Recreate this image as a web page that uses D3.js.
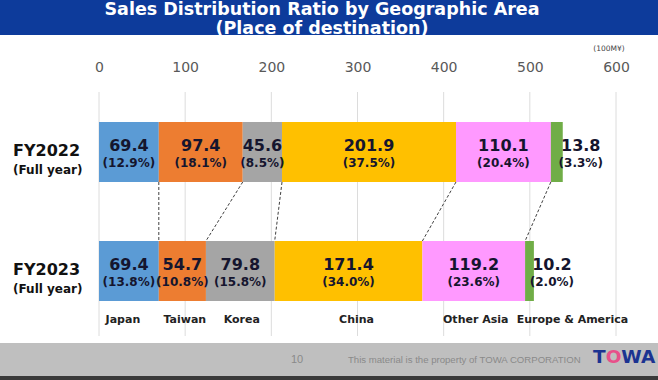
<!DOCTYPE html>
<html><head><meta charset="utf-8">
<script src="https://cdn.jsdelivr.net/npm/d3@7"></script>
<style>body{margin:0;background:#fff}svg{display:block}</style>
</head><body>
<script>
const regions = ["Japan","Taiwan","Korea","China","Other Asia","Europe & America"];
const years = ["FY2022","FY2023"];
const fy2022 = [69.4,97.4,45.6,201.9,110.1,13.8];
const fy2023 = [69.4,54.7,79.8,171.4,119.2,10.2];
const pct2022 = ["12.9%","18.1%","8.5%","37.5%","20.4%","3.3%"];
const pct2023 = ["13.8%","10.8%","15.8%","34.0%","23.6%","2.0%"];
const tickValues = [0,100,200,300,400,500,600];
const colors = ["#5b9bd5","#ed7d31","#a5a5a5","#ffc000","#ff99ff","#70ad47"];

const W = 658, H = 380;
const svg = d3.select("body").append("svg").attr("width", W).attr("height", H);

// title band
svg.append("rect").attr("x",0).attr("y",0).attr("width",W).attr("height",35).attr("fill","#0d3b9b");
const titleStyle = s => s.attr("text-anchor","middle").attr("fill","#fff")
  .style("font-family","DejaVu Sans").style("font-weight","bold").style("font-size","17.5px");
svg.append("text").call(titleStyle).attr("x",322).attr("y",15).text("Sales Distribution Ratio by Geographic Area");
svg.append("text").call(titleStyle).attr("x",322).attr("y",34).text("(Place of destination)");

// scales
const x = d3.scaleLinear().domain([0,600]).range([99,616]);
const yc = d3.scalePoint().domain(years).range([152,271]);
const barH = 60;

// grid
svg.append("g").selectAll("line").data(tickValues).join("line")
  .attr("x1",d=>x(d)).attr("x2",d=>x(d)).attr("y1",92).attr("y2",336)
  .attr("stroke","#dcdcdc").attr("stroke-width",1);

// axis labels
const axis = d3.axisTop(x).tickValues(tickValues).tickSize(0).tickPadding(0);
const ag = svg.append("g").attr("transform","translate(0,72)").call(axis);
ag.select(".domain").remove();
ag.selectAll("text").attr("fill","#595959").style("font-family","DejaVu Sans").style("font-size","14px").attr("dy",0);
svg.append("text").attr("x",609).attr("y",51).attr("text-anchor","middle").attr("fill","#444")
  .style("font-family","DejaVu Sans").style("font-size","7.5px").text("(100M¥)");

// stacked data
const rows = years.map((yr,i)=>{
  const o = {year: yr};
  regions.forEach((r,j)=>{ o[r] = (i===0?fy2022:fy2023)[j]; });
  return o;
});
const pcts = [pct2022, pct2023];
const stacked = d3.stack().keys(regions)(rows);

// connectors
const conn = regions.slice(0,5).map((r,j)=>({a: stacked[j][0][1], b: stacked[j][1][1]}));
svg.append("g").selectAll("line").data(conn).join("line")
  .attr("x1",d=>x(d.a)).attr("y1",yc("FY2022")+barH/2)
  .attr("x2",d=>x(d.b)).attr("y2",yc("FY2023")-barH/2)
  .attr("stroke","#404040").attr("stroke-width",1).attr("stroke-dasharray","3,2");

// bars
const sg = svg.append("g").selectAll("g").data(stacked).join("g").attr("fill",(d,i)=>colors[i]);
sg.selectAll("rect").data(d=>d.map(s=>({s, year:s.data.year}))).join("rect")
  .attr("x",d=>x(d.s[0])).attr("width",d=>x(d.s[1])-x(d.s[0]))
  .attr("y",d=>yc(d.year)-barH/2).attr("height",barH);

// value labels
const lab = [];
stacked.forEach((ser,j)=>{
  ser.forEach((s,i)=>{
    const w = x(s[1])-x(s[0]);
    const cx = w < 30 ? x(s[1]) + 18 : (x(s[0])+x(s[1]))/2;
    lab.push({cx, cy: yc(s.data.year), v: s[1]-s[0], p: pcts[i][j]});
  });
});
const lg = svg.append("g").attr("text-anchor","middle").attr("fill","#15152e").style("font-family","DejaVu Sans").style("font-weight","bold");
lg.selectAll("text.v").data(lab).join("text").attr("class","v")
  .attr("x",d=>d.cx).attr("y",d=>d.cy-1.5).style("font-size","16px").text(d=>d.v.toFixed(1));
lg.selectAll("text.p").data(lab).join("text").attr("class","p")
  .attr("x",d=>d.cx).attr("y",d=>d.cy+14.5).style("font-size","12px").text(d=>"("+d.p+")");

// category labels
const cg = svg.append("g").attr("fill","#111").style("font-family","DejaVu Sans").style("font-weight","bold");
cg.selectAll("text.y").data(years).join("text").attr("class","y")
  .attr("x",13).attr("y",d=>yc(d)+4).style("font-size","16px").text(d=>d);
cg.selectAll("text.f").data(years).join("text").attr("class","f")
  .attr("x",13).attr("y",d=>yc(d)+21.5).style("font-size","12px").text("(Full year)");

// region labels (positioned under FY2023 segments)
const regionOffset = [-6, 2.5, 1.5, 8, 2, 43];
svg.append("g").attr("text-anchor","middle").attr("fill","#222")
  .style("font-family","DejaVu Sans").style("font-weight","bold").style("font-size","11px")
  .selectAll("text").data(regions).join("text")
  .attr("x",(d,j)=>(x(stacked[j][1][0])+x(stacked[j][1][1]))/2 + regionOffset[j])
  .attr("y",323).text(d=>d);

// footer
svg.append("rect").attr("x",0).attr("y",343).attr("width",W).attr("height",34).attr("fill","#bfbfbf");
svg.append("rect").attr("x",0).attr("y",376).attr("width",W).attr("height",4).attr("fill","#3a3a3a");
svg.append("text").attr("x",297).attr("y",363).attr("text-anchor","middle").attr("fill","#8a8a8a")
  .style("font-family","Liberation Sans").style("font-size","11px").text("10");
svg.append("text").attr("x",348).attr("y",363).attr("fill","#8a8a8a")
  .style("font-family","Liberation Sans").style("font-size","9.6px").text("This material is the property of TOWA CORPORATION");
const logo = svg.append("text").attr("x",593).attr("y",363).attr("fill","#1b3391")
  .style("font-family","DejaVu Sans").style("font-weight","bold").style("font-size","18.5px");
logo.append("tspan").text("T");
logo.append("tspan").attr("fill","#e8508a").text("O");
logo.append("tspan").text("WA");
</script>
</body></html>
